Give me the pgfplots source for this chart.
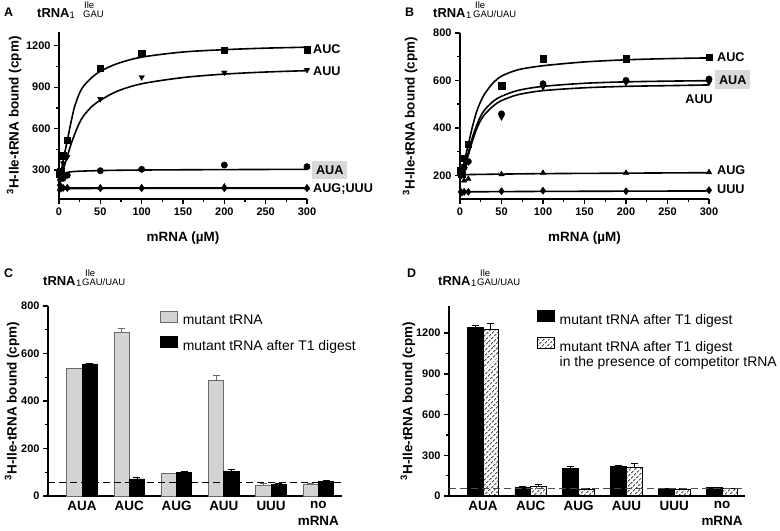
\documentclass[border=0pt]{standalone}
\usepackage{fontspec}
\setmainfont{Liberation Sans}
\usepackage{pgfplots}
\pgfplotsset{compat=1.18}
\usetikzlibrary{patterns.meta}
\definecolor{barg}{HTML}{D3D3D3}
\definecolor{bard}{HTML}{6A6A6A}
\definecolor{boxg}{HTML}{D9D9D9}
\newcommand{\tfont}{\bfseries\fontsize{11}{13}\selectfont}
\newcommand{\lfont}{\bfseries\fontsize{13.5}{16}\selectfont}
\newcommand{\cfont}{\bfseries\fontsize{12.7}{15}\selectfont}
\newcommand{\catfont}{\bfseries\fontsize{13.5}{17}\selectfont}
\newcommand{\letfont}{\bfseries\fontsize{12.5}{14}\selectfont}
\newcommand{\trfont}{\bfseries\fontsize{13}{15}\selectfont}
\newcommand{\smfont}{\fontsize{9.5}{11}\selectfont}
\tikzset{boxlegend/.style={}}
\pgfplotsset{
  boxlegend/.style={legend image code/.code={\draw[##1,line width=0.8bp] (0bp,-0.5bp) rectangle (17bp,10.5bp);}},
  panel/.style={scale only axis, axis x line*=bottom, axis y line*=left,
    axis line style={-, line width=1.6bp}, tick align=outside,
    tick style={black, line width=1.3bp}, major tick length=5bp, minor tick length=3bp,
    clip=false, /pgf/number format/assume math mode=true, /pgf/number format/1000 sep={},
    ticklabel style={font=\tfont}, label style={font=\lfont}},
  curve/.style={black, line width=1.6bp, smooth, no marks},
  pts/.style={black, only marks, mark size=3.2bp},
  barpanel/.style={panel, xtick={0,...,5}, xticklabels={AUA,AUC,AUG,AUU,UUU,{no\\mRNA}},
    xticklabel style={align=center, font=\catfont, yshift=3.5bp}, xtick style={draw=none},
    legend style={draw=none, fill=none, inner sep=0pt, outer sep=0pt, column sep=5bp,
      nodes={inner sep=0pt, text height=10bp, text depth=3bp, font=\fontsize{14}{15}\selectfont}},
    legend cell align=left},
}
\begin{document}
\begin{tikzpicture}
\useasboundingbox (0,0) rectangle (780bp,-531bp);
% ---------------- A
\begin{axis}[panel, at={(59bp,-199bp)}, anchor=south west, width=248bp, height=167bp,
  xmin=0, xmax=300, ymin=90, ymax=1300, xtick={0,50,...,300}, minor x tick num=1,
  ytick={300,600,900,1200}, minor y tick num=1,
  xlabel={mRNA (µM)}, ylabel={\textsuperscript{3}H-Ile-tRNA bound (cpm)},
  xlabel style={at={(axis description cs:0.5,-0.2335)}, anchor=center},
  ylabel style={at={(axis description cs:-0.181,0.5)}, anchor=center}]
\addplot[curve] coordinates {(0,180) (2,255) (5,370) (8,455) (10,512) (12,572) (15,660) (19,762) (25,860) (30,910) (40,972) (50,1015) (70,1070) (100,1118) (150,1155) (200,1172) (250,1183) (300,1190)};
\addplot[curve] coordinates {(0,180) (2,225) (5,300) (8,360) (10,400) (15,495) (20,575) (25,645) (30,695) (40,762) (50,805) (70,870) (100,925) (150,970) (200,995) (250,1010) (300,1020)};
\addplot[curve] coordinates {(0,170) (2,235) (5,265) (8,278) (10,283) (20,290) (50,296) (100,300) (200,303) (300,305)};
\addplot[curve] coordinates {(0,170) (100,170) (300,170)};
\addplot[curve] coordinates {(0,166) (100,167) (300,168)};
\addplot[pts, mark=square*] coordinates {(1,270) (2,290) (5,405) (10,518) (50,1038) (100,1147) (200,1168) (300,1171)};
\addplot[pts, mark=triangle*, mark options={rotate=180}] coordinates {(1,220) (2,250) (5,350) (10,395) (50,815) (100,973) (200,1006) (300,1026)};
\addplot[pts, mark=*] coordinates {(1,280) (2,250) (5,240) (10,262) (50,295) (100,305) (200,336) (300,324)};
\addplot[pts, mark=triangle*] coordinates {(1,160) (2,180) (5,170) (10,172) (50,172) (100,175) (200,180) (300,172)};
\addplot[pts, mark=diamond*, mark size=3.6bp] coordinates {(1,190) (2,165) (5,170) (10,170) (50,168) (100,168) (200,168) (300,168)};
\node[anchor=west, font=\cfont, inner sep=0pt, xshift=6bp] at (axis cs:300,1178) {AUC};
\node[anchor=west, font=\cfont, inner sep=0pt, xshift=6bp] at (axis cs:300,1018) {AUU};
\node[anchor=west, font=\cfont, fill=boxg, inner xsep=3.8bp, inner ysep=5bp, xshift=5bp] at (axis cs:300,300) {AUA};
\node[anchor=west, font=\cfont, inner sep=0pt, xshift=6bp] at (axis cs:300,162) {AUG;UUU};
\end{axis}
% ---------------- B
\begin{axis}[panel, at={(460bp,-199bp)}, anchor=south west, width=249bp, height=166bp,
  xmin=0, xmax=300, ymin=100, ymax=800, xtick={0,50,...,300}, minor x tick num=1,
  ytick={200,400,600,800}, minor y tick num=1,
  xlabel={mRNA (µM)}, ylabel={\textsuperscript{3}H-Ile-tRNA bound (cpm)},
  xlabel style={at={(axis description cs:0.5,-0.235)}, anchor=center},
  ylabel style={at={(axis description cs:-0.20,0.5)}, anchor=center}]
\addplot[curve] coordinates {(0,200) (2,218) (5,255) (8,300) (10,330) (15,405) (20,468) (25,512) (30,545) (40,590) (50,618) (70,645) (100,662) (150,678) (200,687) (250,692) (300,695)};
\addplot[curve] coordinates {(0,200) (2,212) (5,240) (8,272) (10,296) (15,360) (20,410) (25,450) (30,477) (40,512) (50,533) (70,558) (100,575) (150,588) (200,594) (250,597) (300,599)};
\addplot[curve] coordinates {(0,200) (2,210) (5,235) (8,263) (10,285) (15,345) (20,395) (25,432) (30,458) (40,492) (50,515) (70,540) (100,557) (150,569) (200,575) (250,578) (300,581)};
\addplot[curve] coordinates {(0,185) (3,198) (6,202) (10,203) (50,205) (100,207) (200,209) (300,211)};
\addplot[curve] coordinates {(0,130) (100,132) (300,134)};
\addplot[pts, mark=square*] coordinates {(1,220) (2,205) (5,272) (10,330) (50,578) (100,692) (200,692) (300,699)};
\addplot[pts, mark=triangle*, mark options={rotate=180}] coordinates {(1,195) (2,205) (5,240) (10,255) (50,445) (100,572) (200,590) (300,592)};
\addplot[pts, mark=*] coordinates {(1,200) (2,215) (5,232) (10,258) (50,459) (100,586) (200,600) (300,606)};
\addplot[pts, mark=triangle*] coordinates {(1,215) (2,200) (5,178) (10,185) (50,204) (100,210) (200,210) (300,213)};
\addplot[pts, mark=diamond*, mark size=3.6bp] coordinates {(1,130) (2,127) (5,130) (10,130) (50,133) (100,135) (200,133) (300,137)};
\node[anchor=west, font=\cfont, inner sep=0pt, xshift=8bp] at (axis cs:300,697) {AUC};
\node[anchor=west, font=\cfont, fill=boxg, inner xsep=3.8bp, inner ysep=5bp, xshift=6bp] at (axis cs:300,603) {AUA};
\node[anchor=east, font=\cfont, inner sep=0pt, xshift=4bp] at (axis cs:300,521) {AUU};
\node[anchor=west, font=\cfont, inner sep=0pt, xshift=8bp] at (axis cs:300,223) {AUG};
\node[anchor=west, font=\cfont, inner sep=0pt, xshift=8bp] at (axis cs:300,141) {UUU};
\end{axis}
% ---------------- C
\begin{axis}[barpanel, at={(48bp,-496bp)}, anchor=south west, width=294bp, height=190bp,
  xmin=-0.72, xmax=5.5, ymin=0, ymax=800, ytick={0,200,...,800}, minor y tick num=1,
  ylabel={\textsuperscript{3}H-Ile-tRNA bound (cpm)},
  ylabel style={at={(axis description cs:-0.122,0.5)}, anchor=center},
  legend style={at={(axis description cs:0.381,0.976)}, anchor=north west, row sep=8.5bp}]
\addplot[ybar, boxlegend, bar width=0.324, bar shift=0pt, fill=barg, draw=bard, line width=0.8bp,
  error bars/.cd, y dir=plus, y explicit, error bar style={line width=0.9bp, bard},
  error mark options={rotate=90, mark size=3.5bp, line width=0.9bp, bard}]
  coordinates {(-0.162,536) +- (0,3) (0.838,690) +- (0,15) (1.838,95) +- (0,2) (2.838,487) +- (0,21) (3.838,46) +- (0,5) (4.838,50) +- (0,3)};
\addlegendentry{mutant tRNA}
\addplot[ybar, boxlegend, bar width=0.324, bar shift=0pt, fill=black, draw=black, line width=0.8bp,
  error bars/.cd, y dir=plus, y explicit, error bar style={line width=0.9bp, black},
  error mark options={rotate=90, mark size=3.5bp, line width=0.9bp, black}]
  coordinates {(0.162,556) +- (0,4) (1.162,72) +- (0,6) (2.162,98) +- (0,4) (3.162,105) +- (0,6) (4.162,50) +- (0,2) (5.162,62) +- (0,2)};
\addlegendentry{mutant tRNA after T1 digest}
\addplot[forget plot, black, line width=1bp, dash pattern=on 7bp off 4bp] coordinates {(-0.72,55) (5.5,55)};
\end{axis}
% ---------------- D
\begin{axis}[barpanel, at={(449bp,-496bp)}, anchor=south west, width=296bp, height=190bp,
  xmin=-0.71, xmax=5.48, ymin=0, ymax=1400, ytick={0,300,...,1200}, minor y tick num=1,
  ylabel={\textsuperscript{3}H-Ile-tRNA bound (cpm)},
  ylabel style={at={(axis description cs:-0.139,0.5)}, anchor=center},
  legend style={at={(axis description cs:0.297,0.979)}, anchor=north west, row sep=9.5bp}]
\addplot[ybar, boxlegend, bar width=0.33, bar shift=0pt, fill=black, draw=black, line width=0.8bp,
  error bars/.cd, y dir=plus, y explicit, error bar style={line width=0.9bp, black},
  error mark options={rotate=90, mark size=3.5bp, line width=0.9bp, black}]
  coordinates {(-0.165,1240) +- (0,16) (0.835,64) +- (0,3) (1.835,203) +- (0,12) (2.835,215) +- (0,8) (3.835,51) +- (0,2) (4.835,60) +- (0,2)};
\addlegendentry{mutant tRNA after T1 digest}
\addplot[ybar, boxlegend, bar width=0.33, bar shift=0pt, pattern={Lines[angle=45,distance=3.6bp,line width=0.8bp]}, draw=black, line width=0.8bp,
  error bars/.cd, y dir=plus, y explicit, error bar style={line width=0.9bp, black},
  error mark options={rotate=90, mark size=3.5bp, line width=0.9bp, black}]
  coordinates {(0.165,1224) +- (0,44) (1.165,69) +- (0,19) (2.165,51) +- (0,3) (3.165,208) +- (0,32) (4.165,47) +- (0,12) (5.165,54) +- (0,2)};
\addlegendentry{\begin{tabular}[t]{@{}l@{}}mutant tRNA after T1 digest\\in the presence of competitor tRNA\end{tabular}}
\addplot[forget plot, black!70, line width=1bp, dash pattern=on 7bp off 4bp] coordinates {(-0.71,58) (5.48,58)};
\end{axis}
% ---------------- titles
\node[anchor=base west, inner sep=0pt, font=\letfont] at (4bp,-16bp) {A};
\node[anchor=base west, inner sep=0pt, font=\trfont] at (37bp,-17bp) {tRNA};
\node[anchor=base west, inner sep=0pt, font=\smfont] at (69.5bp,-18.5bp) {1};
\node[anchor=base west, inner sep=0pt, font=\smfont] at (84bp,-8.6bp) {Ile};
\node[anchor=base west, inner sep=0pt, font=\smfont] at (83bp,-17bp) {GAU};
\node[anchor=base west, inner sep=0pt, font=\letfont] at (405bp,-16bp) {B};
\node[anchor=base west, inner sep=0pt, font=\trfont] at (433bp,-17bp) {tRNA};
\node[anchor=base west, inner sep=0pt, font=\smfont] at (466bp,-18.5bp) {1};
\node[anchor=base west, inner sep=0pt, font=\smfont] at (475bp,-8.6bp) {Ile};
\node[anchor=base west, inner sep=0pt, font=\smfont] at (473bp,-17bp) {GAU/UAU};
\node[anchor=base west, inner sep=0pt, font=\letfont] at (4bp,-277bp) {C};
\node[anchor=base west, inner sep=0pt, font=\trfont] at (43bp,-285bp) {tRNA};
\node[anchor=base west, inner sep=0pt, font=\smfont] at (76bp,-286.5bp) {1};
\node[anchor=base west, inner sep=0pt, font=\smfont] at (85bp,-276.6bp) {Ile};
\node[anchor=base west, inner sep=0pt, font=\smfont] at (82bp,-285bp) {GAU/UAU};
\node[anchor=base west, inner sep=0pt, font=\letfont] at (407bp,-277bp) {D};
\node[anchor=base west, inner sep=0pt, font=\trfont] at (438bp,-285bp) {tRNA};
\node[anchor=base west, inner sep=0pt, font=\smfont] at (471bp,-286.5bp) {1};
\node[anchor=base west, inner sep=0pt, font=\smfont] at (480bp,-276.6bp) {Ile};
\node[anchor=base west, inner sep=0pt, font=\smfont] at (477bp,-285bp) {GAU/UAU};
\end{tikzpicture}
\end{document}
